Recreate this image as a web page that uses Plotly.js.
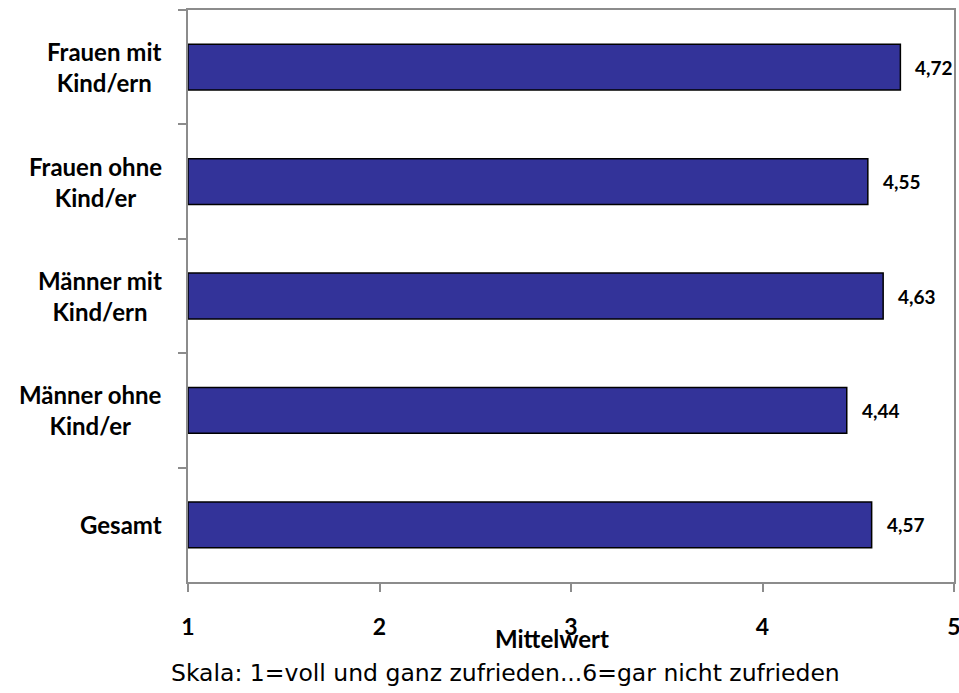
<!DOCTYPE html>
<html>
<head>
<meta charset="utf-8">
<script src="https://cdn.plot.ly/plotly-3.0.1.min.js"></script>
<style>html,body{margin:0;padding:0;background:#fff;}#chart{width:959px;height:693px;}</style>
</head>
<body>
<div id="chart"></div>
<script>
const categories = ["Frauen mit<br>Kind/ern", "Frauen ohne<br>Kind/er", "Männer mit<br>Kind/ern", "Männer ohne<br>Kind/er", "Gesamt"];
const values = [4.72, 4.55, 4.63, 4.44, 4.57];
const valueLabels = ["4,72", "4,55", "4,63", "4,44", "4,57"];
const xTickVals = [1, 2, 3, 4, 5];
const xTickText = ["1", "2", "3", "4", "5"];
const xTitle = "Mittelwert";
const caption = "Skala: 1=voll und ganz zufrieden...6=gar nicht zufrieden";

const labelFont = {family: "Lato, 'Open Sans', sans-serif", size: 24, color: "#000"};

const trace = {
  type: "bar",
  orientation: "h",
  y: categories,
  x: values.map(v => v - 1),
  base: 1,
  width: 0.4,
  marker: {color: "#333399", line: {color: "#000", width: 1.5}},
  hoverinfo: "skip"
};

const annotations = [];
categories.forEach((c, i) => {
  annotations.push({
    xref: "paper", yref: "y", x: 0, y: c, xanchor: "right", yanchor: "middle",
    xshift: -24, text: "<b>" + c.replace("<br>", "</b><br><b>") + "</b>", showarrow: false, align: "center", font: labelFont
  });
  annotations.push({
    xref: "x", yref: "y", x: values[i], y: c, xanchor: "left", yanchor: "middle",
    xshift: 13, text: "<b>" + valueLabels[i] + "</b>", showarrow: false,
    font: {family: "Lato, sans-serif", size: 19, color: "#000"}
  });
});
annotations.push({
  xref: "paper", yref: "paper", x: 0.5, y: 0, xshift: -19, yshift: -56, xanchor: "center", yanchor: "middle",
  text: "<b>" + xTitle + "</b>", showarrow: false, font: {family: "Lato, sans-serif", size: 24, color: "#000"}
});
annotations.push({
  xref: "paper", yref: "paper", x: 0.5, y: 0, xshift: -66, yshift: -91, xanchor: "center", yanchor: "middle",
  text: caption, showarrow: false, font: {family: "'DejaVu Sans', sans-serif", size: 23.5, color: "#000"}
});

const layout = {
  width: 959, height: 693,
  margin: {l: 188, r: 5, t: 10, b: 111},
  paper_bgcolor: "#fff", plot_bgcolor: "#fff",
  showlegend: false,
  xaxis: {
    range: [1, 5], tickvals: xTickVals, ticktext: xTickText.map(t => "<b>" + t + "</b>"),
    showgrid: false, zeroline: false,
    showline: true, linecolor: "#8c8c8c", linewidth: 2, mirror: true,
    ticks: "outside", ticklen: 8, tickcolor: "#8c8c8c", tickwidth: 2,
    ticklabelstandoff: 15, ticklabeloverflow: "allow",
    tickfont: {family: "Lato, sans-serif", size: 23, color: "#000"},
    fixedrange: true
  },
  yaxis: {
    autorange: "reversed",
    showticklabels: false,
    showgrid: false, zeroline: false,
    showline: true, linecolor: "#8c8c8c", linewidth: 2, mirror: true,
    ticks: "outside", tickson: "boundaries", ticklen: 8, tickcolor: "#8c8c8c", tickwidth: 2,
    fixedrange: true
  },
  annotations: annotations
};

Plotly.newPlot("chart", [trace], layout, {displayModeBar: false, staticPlot: true});
</script>
</body>
</html>
